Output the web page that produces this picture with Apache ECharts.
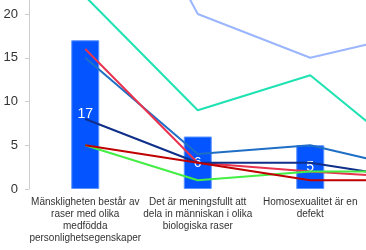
<!DOCTYPE html>
<html>
<head>
<meta charset="utf-8">
<script src="https://cdn.jsdelivr.net/npm/echarts@6/dist/echarts.min.js"></script>
<style>
html, body { margin: 0; padding: 0; background: #fff; overflow: hidden; }
#wrap { position: relative; width: 366px; height: 250px; overflow: hidden; }
/* the visible frame is a cut-out of a taller, wider chart */
#chart { position: absolute; left: 0; top: -300px; width: 600px; height: 550px; }
</style>
</head>
<body>
<div id="wrap"><div id="chart"></div></div>
<script>
const categories = [
  'Mänskligheten består av\nraser med olika\nmedfödda\npersonlighetsegenskaper',
  'Det är meningsfullt att\ndela in människan i olika\nbiologiska raser',
  'Homosexualitet är en\ndefekt',
  ''
]
const barValues = [17, 6, 5, null]
const lightBlue = [44, 20, 15, 18]
const teal = [22, 9, 13, 2.5]
const crimson = [16, 3, 2, 1.2]
const steelBlue = [15, 4, 5, 2]
const navy = [8, 3, 3, 1]
const darkRed = [5, 3, 1, 1]
const green = [5, 1, 2, 2]
const yTicks = { min: 0, max: 50, interval: 5 }

const lines = [
  { data: lightBlue, color: '#9bb6ff' },
  { data: teal, color: '#1fe2b2' },
  { data: steelBlue, color: '#1f6fc5' },
  { data: crimson, color: '#e8334f' },
  { data: navy, color: '#0f2f8a' },
  { data: green, color: '#44ee44' },
  { data: darkRed, color: '#c00000' }
]

const myChart = echarts.init(document.getElementById('chart'))
myChart.setOption({
  animation: false,
  grid: {
    left: 29,
    right: 121,
    top: 51.5,
    bottom: 61
  },
  xAxis: {
    type: 'category',
    data: categories,
    axisLine: { show: false },
    axisTick: { show: false },
    axisLabel: {
      interval: 0,
      margin: 7,
      color: '#333',
      fontSize: 10,
      lineHeight: 12,
      fontFamily: 'Liberation Sans, Arial, sans-serif'
    }
  },
  yAxis: {
    type: 'value',
    min: yTicks.min,
    max: yTicks.max,
    interval: yTicks.interval,
    splitLine: { show: false },
    axisLine: { show: true, lineStyle: { color: '#ccc', width: 1 } },
    axisTick: { show: true, length: 4, lineStyle: { color: '#ccc' } },
    axisLabel: {
      margin: 11,
      color: '#333',
      fontSize: 13,
      fontFamily: 'Liberation Sans, Arial, sans-serif'
    }
  },
  series: [
    {
      type: 'bar',
      data: barValues,
      barWidth: 28,
      z: 1,
      itemStyle: {
        color: '#0455ff',
        borderColor: '#5c95ff',
        borderWidth: 1
      },
      label: {
        show: true,
        position: 'inside',
        color: '#fff',
        fontSize: 14,
        fontFamily: 'Liberation Sans, Arial, sans-serif'
      }
    },
    ...lines.map(l => ({
      type: 'line',
      data: l.data,
      showSymbol: false,
      z: 2,
      lineStyle: { color: l.color, width: 2 },
      itemStyle: { color: l.color }
    }))
  ]
})
</script>
</body>
</html>
